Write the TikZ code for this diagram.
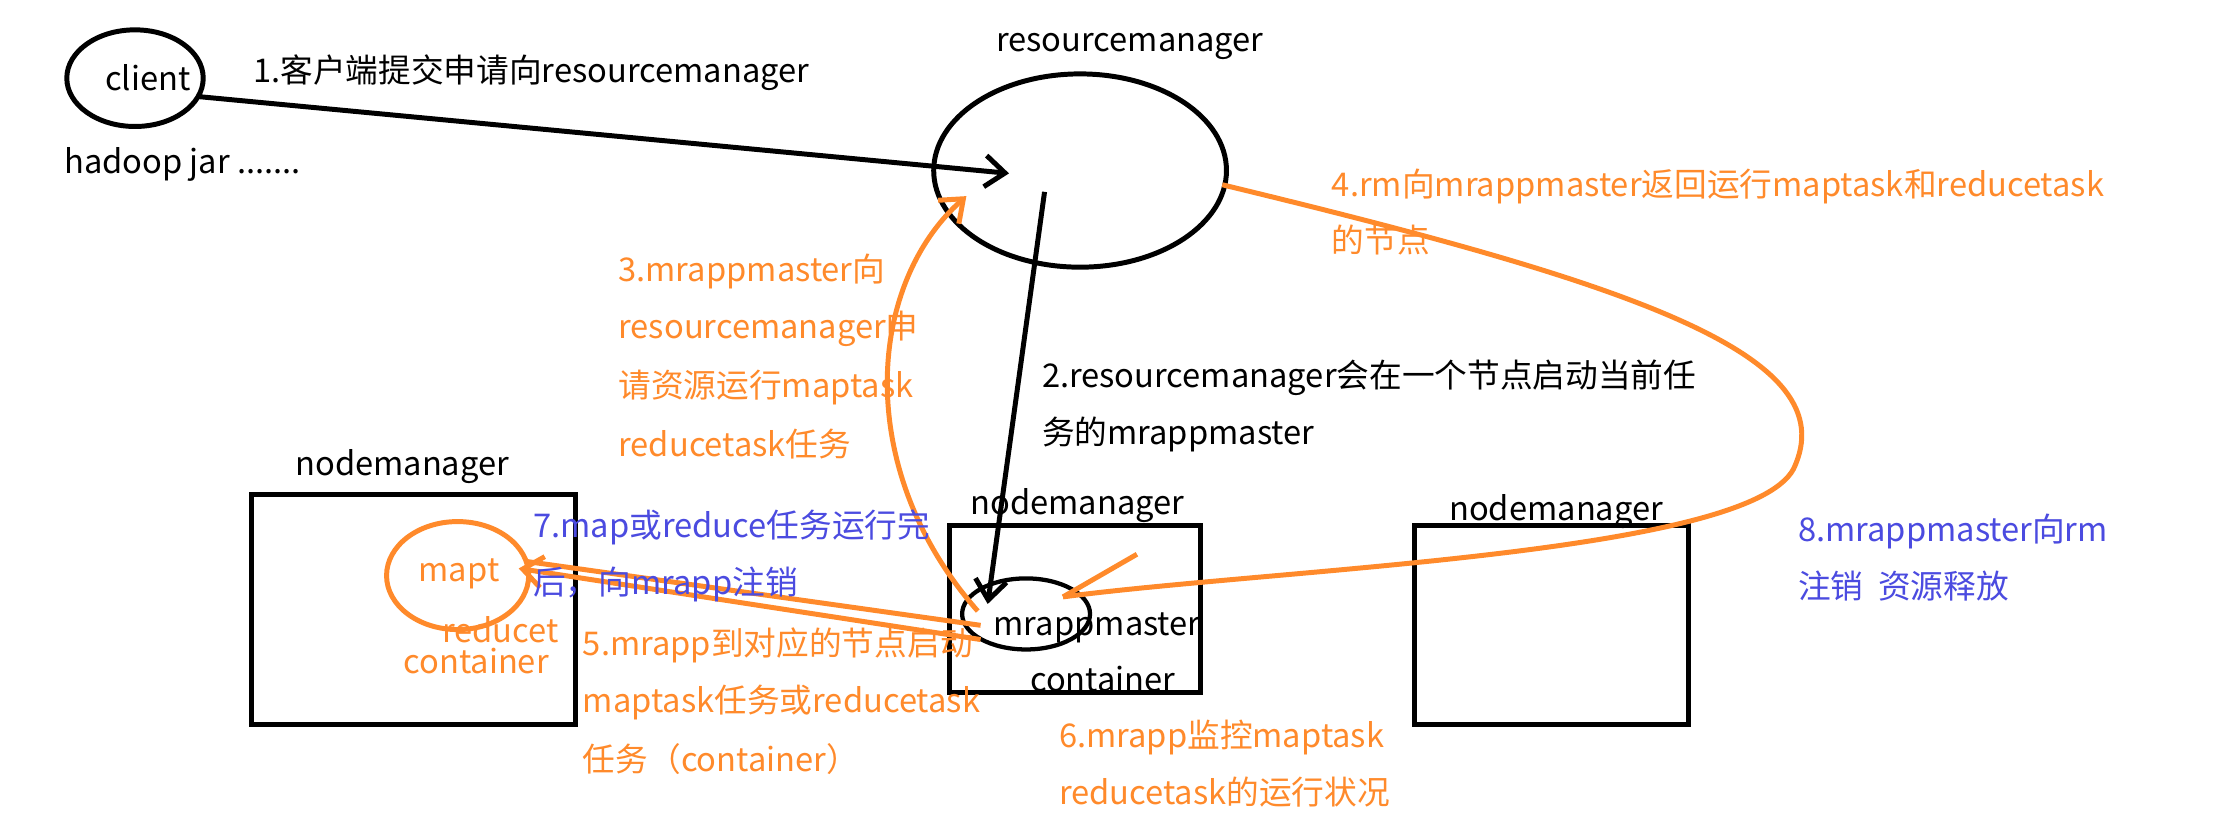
\documentclass[tikz,border=0pt]{standalone}
\usepackage{fontspec}
\setmainfont{Noto Sans CJK SC}
\usetikzlibrary{arrows.meta,shapes.geometric}
\definecolor{org}{HTML}{FF8A2B}
\definecolor{blu}{HTML}{4B4BE0}
\begin{document}
\begin{tikzpicture}[x=1pt,y=-1pt,
  every node/.style={font=\fontsize{23}{27}\selectfont,inner sep=0pt},
  lbl/.style={anchor=base west},
  blk/.style={line width=3.5pt,black},
  og/.style={line width=3.5pt,org},
  tip/.style={-{Straight Barb[length=14pt,width=22pt]}}]
\useasboundingbox (0,0) rectangle (1560,588);
\fill[white] (0,0) rectangle (1560,588);
% client
\node[draw,blk,ellipse,minimum width=96pt,minimum height=68pt] (client) at (95,55) {};
\node at (104,55) (ct) {client};
\node[lbl] (hj) at (45,122) {hadoop jar .......};
\node[lbl] (t1) at (178,58) {1.客户端提交申请向resourcemanager};
% RM
\draw[blk] (760,120) ellipse (103pt and 68pt);
\coordinate (rm) at (760,120);
\node (rmt) at (795,33) {resourcemanager};
\coordinate (a1s) at (140,68);
\coordinate (a1e) at (710,122);
\draw[blk,tip] (a1s) -- (a1e);
% nodemanagers
\draw[blk] (177,348) rectangle (405,510);
\node (n1) at (283,328) {nodemanager};
\draw[blk] (668,370) rectangle (845,487);
\node (n2) at (758,356) {nodemanager};
\draw[blk] (995,370) rectangle (1188,510);
\node (n3) at (1095,360) {nodemanager};
% mrappmaster
\draw[line width=3pt] (722,432) ellipse (45pt and 25pt);
\coordinate (mr) at (722,432);
\node (mrt) at (772,442) {mrappmaster};
\node (mrc) at (776,478) {container};
\coordinate (a2s) at (735,135);
\coordinate (a2e) at (695,425);
\draw[blk,tip] (a2s) -- (a2e);
\node[lbl] (t2a) at (733,273) {2.resourcemanager会在一个节点启动当前任};
\node[lbl] (t2b) at (733,313) {务的mrappmaster};
% map container
\draw[og] (322,405) ellipse (50pt and 38pt);
\node[org] (mt) at (323,404) {mapt};
\node[org] (rt) at (352,443) {reducet};
\node[org] (ctr) at (335,465) {container};
% orange curves
\coordinate (c3s) at (688,430);
\coordinate (c3e) at (680,138);
\draw[og,tip] (c3s) .. controls (600,330) and (610,200) .. (c3e);
\coordinate (c4s) at (860,130);
\coordinate (c4e) at (748,420);
\draw[og] (c4s) .. controls (1150,200) and (1300,250) .. (1262,330) .. controls (1230,390) and (900,400) .. (c4e);
\draw[og] (c4e) -- (800,390);
\coordinate (c5s) at (690,450);
\coordinate (c5e) at (365,400);
\draw[og,tip] (c5s) -- (c5e);
\draw[og] (690,440) -- (370,395);
% orange texts
\node[lbl,org] at (435,198) {3.mrappmaster向};
\node[lbl,org] at (435,238) {resourcemanager申};
\node[lbl,org] at (435,280) {请资源运行maptask};
\node[lbl,org] at (435,321) {reducetask任务};
\node[lbl,org] at (937,138) {4.rm向mrappmaster返回运行maptask和reducetask};
\node[lbl,org] at (937,178) {的节点};
\node[lbl,org] at (410,461) {5.mrapp到对应的节点启动};
\node[lbl,org] at (410,501) {maptask任务或reducetask};
\node[lbl,org] at (410,543) {任务（container）};
\node[lbl,org] at (745,526) {6.mrapp监控maptask};
\node[lbl,org] at (745,566) {reducetask的运行状况};
\node[lbl,blu] at (375,378) {7.map或reduce任务运行完};
\node[lbl,blu] at (375,418) {后，向mrapp注销};
\node[lbl,blu] at (1265,381) {8.mrappmaster向rm};
\node[lbl,blu] at (1265,421) {注销\ \ 资源释放};
\end{tikzpicture}
\end{document}
